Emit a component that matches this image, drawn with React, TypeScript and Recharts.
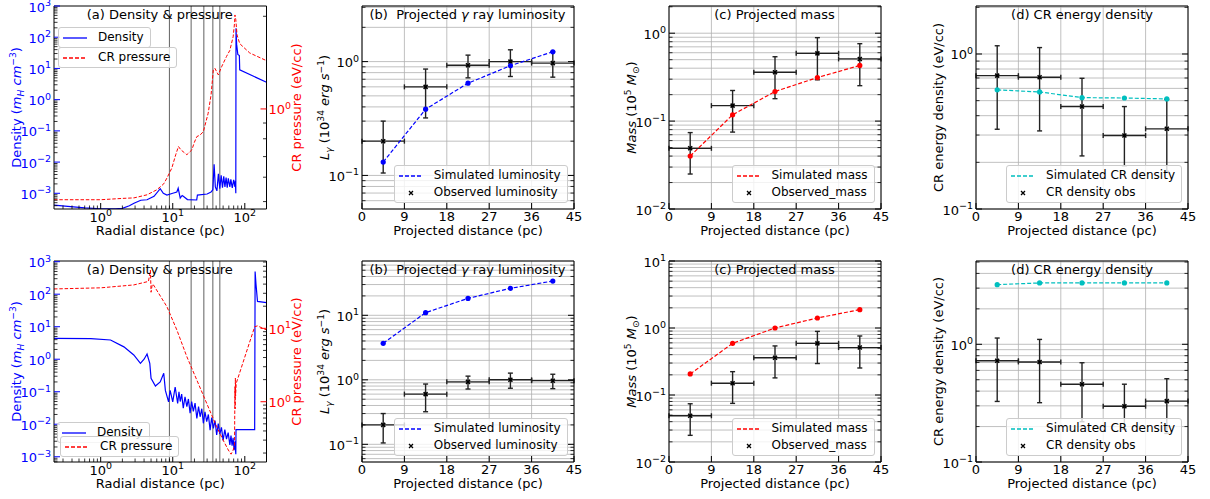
import React from "react";
import {
  ComposedChart,
  Line,
  Scatter,
  XAxis,
  YAxis,
  CartesianGrid,
  ErrorBar,
  ReferenceLine,
} from "recharts";

const FONT = "'DejaVu Sans', Verdana, sans-serif";
const FS = 13;
const BLUE = "#0000ff";
const RED = "#ff0000";
const CYAN = "#00bfbf";

// ---------- radial profiles (panel a), radius in pc ----------
const densTopR = [0.225, 0.35, 0.6, 1.0, 1.6, 2.0, 2.5, 2.9, 3.6, 4.4, 5.5, 6.7, 7.4, 8.3, 10, 11.4, 11.9, 12.7, 13.5, 14, 16, 21.5, 22, 30, 34, 36, 37.5, 39, 41, 43, 45, 47, 49, 51, 53, 55, 57, 59, 62, 64, 67, 70, 73, 74, 75, 75.5, 77, 80, 84, 85, 200];
const densTopV = [4.2e-4, 3.8e-4, 3.4e-4, 3.2e-4, 3.2e-4, 3.3e-4, 4.0e-4, 4.8e-4, 6.0e-4, 6.2e-4, 8.0e-4, 1.4e-3, 1.0e-3, 8.8e-4, 1.0e-3, 1.1e-3, 1.45e-3, 7e-4, 8.5e-4, 8e-4, 6.3e-4, 6.1e-4, 8.8e-4, 9.5e-4, 1.1e-3, 1.3e-3, 8.5e-3, 1.6e-3, 1.2e-3, 4.2e-3, 1.4e-3, 3.8e-3, 1.5e-3, 3.5e-3, 1.6e-3, 3.2e-3, 1.5e-3, 3.0e-3, 1.6e-3, 2.8e-3, 1.5e-3, 2.7e-3, 1.6e-3, 2.5e-3, 1.0e-3, 195, 60, 28, 26, 9, 3.6];
const presTopR = [0.225, 1.0, 2.0, 2.9, 4.4, 6.0, 7.5, 8.3, 9.7, 11, 12, 13, 15.7, 18.4, 20, 21.6, 24, 26.6, 31, 34, 36.6, 38.5, 42.9, 47.6, 55.7, 62, 69, 72, 73, 75, 78, 85, 117, 200];
const presTopV = [0.507, 0.507, 0.512, 0.514, 0.526, 0.546, 0.571, 0.596, 0.642, 0.71, 0.755, 0.736, 0.71, 0.736, 0.78, 0.813, 0.823, 0.844, 0.968, 1.11, 1.34, 1.355, 1.29, 1.37, 1.48, 1.55, 1.72, 1.9, 2.02, 1.95, 1.74, 1.63, 1.52, 1.435];

const densBotR = [0.225, 0.73, 1.37, 2.1, 2.88, 3.56, 4.0, 4.4, 4.8, 5.0, 5.75, 6.7, 7.5, 7.9, 8.75, 9.2, 10, 10.8, 11.7, 12.2, 12.7, 13.3, 14, 14.8, 15.7, 16.5, 17.4, 18.3, 19.3, 20.4, 21.6, 22.8, 24, 25.3, 26.6, 28, 29.6, 31.2, 33, 34.7, 36.6, 38.6, 40.7, 42.8, 45, 47.4, 50, 52.8, 55.7, 58.8, 62, 64.3, 66.6, 68.8, 71, 73, 75, 75.5, 137, 139, 143, 150, 200];
const densBotV = [4.4, 4.3, 3.9, 2.4, 1.35, 0.75, 1.0, 1.45, 0.75, 0.26, 0.15, 0.2, 0.37, 0.11, 0.049, 0.11, 0.049, 0.14, 0.044, 0.1, 0.05, 0.085, 0.031, 0.07, 0.035, 0.06, 0.022, 0.05, 0.025, 0.045, 0.015, 0.035, 0.017, 0.03, 0.0107, 0.024, 0.012, 0.02, 0.0066, 0.016, 0.0075, 0.013, 0.0047, 0.0105, 0.005, 0.008, 0.0032, 0.0068, 0.0035, 0.0055, 0.0023, 0.0045, 0.0022, 0.0038, 0.0016, 0.003, 0.0012, 0.0068, 0.0068, 500, 200, 60, 55];
const presBotR = [0.225, 1.0, 2.88, 4.6, 4.9, 5.0, 5.2, 5.4, 8.3, 11.4, 15.7, 21.6, 29.6, 40.7, 50, 59, 64.5, 69, 72, 73, 73.5, 74, 74.5, 76, 137, 150, 200];
const presBotV = [34.4, 35.6, 39, 43.5, 62, 31, 40, 39, 19.7, 9.5, 4.1, 1.97, 0.95, 0.457, 0.3, 0.22, 0.193, 0.22, 0.26, 1.6, 0.8, 2.1, 1.2, 1.78, 10.5, 10.8, 9.5];

const shellEdges = [9, 18, 27, 36, 45];

// ---------- projected profiles (panels b-d) ----------
const binCenters = [4.5, 13.5, 22.5, 31.5, 40.5];
const binHalfWidth = [4.5, 4.5, 4.5, 4.5, 4.5];

const lumObs = [0.2, 0.6, 0.93, 1.0, 0.97];
const lumObsLow = [0.105, 0.32, 0.72, 0.74, 0.73];
const lumObsHigh = [0.3, 0.86, 1.14, 1.27, 1.22];
const lumSimTop = [0.131, 0.382, 0.646, 0.92, 1.22];
const lumSimBottom = [3.68, 11, 18.3, 26.2, 34];

const massObs = [0.049, 0.15, 0.36, 0.59, 0.51];
const massObsLow = [0.025, 0.075, 0.18, 0.295, 0.253];
const massObsHigh = [0.074, 0.223, 0.54, 0.89, 0.76];
const massSimTop = [0.04, 0.118, 0.217, 0.313, 0.43];
const massSimBottom = [0.206, 0.59, 1.0, 1.41, 1.88];

const crObs = [0.725, 0.708, 0.458, 0.298, 0.329];
const crObsLow = [0.327, 0.319, 0.22, 0.19, 0.175];
const crObsHigh = [1.13, 1.1, 0.697, 0.458, 0.51];
const crSimTop = [0.587, 0.569, 0.523, 0.52, 0.513];
const crSimBottom = [3.21, 3.32, 3.32, 3.32, 3.32];

const projTicks = [0, 9, 18, 27, 36, 45];
const radialDomain = [0.225, 200];

// ---------- helpers ----------
const isDecade = (v: number) => Math.abs(Math.log10(v) - Math.round(Math.log10(v))) < 1e-6;
const expStr = (v: number) => {
  const e = Math.round(Math.log10(v));
  return e < 0 ? `\u2212${-e}` : `${e}`;
};
const logTicks = (lo: number, hi: number) => {
  const out: number[] = [];
  for (let e = Math.floor(Math.log10(lo)); e <= Math.ceil(Math.log10(hi)); e++) {
    for (let m = 1; m <= 9; m++) {
      const v = Number((m * Math.pow(10, e)).toPrecision(6));
      if (v >= lo && v <= hi) out.push(v);
    }
  }
  return out;
};
const rows = (xs: number[], ys: number[]) => xs.map((x, i) => ({ x, y: ys[i] }));
const obsRows = (ys: number[], lo: number[], hi: number[]) =>
  binCenters.map((x, i) => ({ x, y: ys[i], ex: binHalfWidth[i], ey: [ys[i] - lo[i], hi[i] - ys[i]] }));

type Seg = { t: string; it?: boolean; sup?: boolean; sub?: boolean };
const renderSegs = (list: Seg[], fs: number) => {
  let shift = 0;
  return list.map((s, i) => {
    const target = s.sup ? -0.42 * fs : s.sub ? 0.22 * fs : 0;
    const dy = target - shift;
    shift = target;
    return (
      <tspan key={i} dy={dy} fontSize={s.sup || s.sub ? fs * 0.7 : fs} fontStyle={s.it ? "italic" : "normal"}>
        {s.t}
      </tspan>
    );
  });
};

const densLabel: Seg[] = [{ t: "Density (" }, { t: "m", it: true }, { t: "H", it: true, sub: true }, { t: " cm", it: true }, { t: "\u22123", sup: true }, { t: ")" }];
const presLabel: Seg[] = [{ t: "CR pressure (eV/cc)" }];
const lumLabel: Seg[] = [{ t: "L", it: true }, { t: "\u03b3", it: true, sub: true }, { t: " (10" }, { t: "34", sup: true }, { t: " erg s", it: true }, { t: "\u22121", sup: true }, { t: ")" }];
const massLabel: Seg[] = [{ t: "Mass", it: true }, { t: " (10" }, { t: "5", sup: true }, { t: " M", it: true }, { t: "\u2299", sub: true }, { t: ")" }];
const crLabel: Seg[] = [{ t: "CR energy density (eV/cc)" }];

// tick renderer: draws inward tick line plus optional label
const TM = 20;
type Side = "left" | "right" | "bottom" | "top";
const makeTick = (o: { side: Side; log?: boolean; text?: "pow" | "num"; color?: string }) => (p: any) => {
  const v = Number(p.payload?.value);
  const major = !o.log || isDecade(v);
  const len = major ? 6 : 3.5;
  const lc = major && o.color ? o.color : "#000";
  const sw = major ? 1 : 0.8;
  const fill = o.color || "#000";
  const lab = (x: number, y: number, anchor: any) => {
    if (!o.text || !major) return null;
    return o.text === "pow" ? (
      <text x={x} y={y} textAnchor={anchor} fill={fill} fontSize={FS} fontFamily={FONT}>
        10<tspan dy={-5.5} fontSize={9.5}>{expStr(v)}</tspan>
      </text>
    ) : (
      <text x={x} y={y} textAnchor={anchor} fill={fill} fontSize={FS} fontFamily={FONT}>
        {v}
      </text>
    );
  };
  if (o.side === "left") {
    const sx = p.x + TM;
    return (
      <g>
        <line x1={sx} y1={p.y} x2={sx + len} y2={p.y} stroke={lc} strokeWidth={sw} />
        {lab(sx - 3, p.y + 5.5, "end")}
      </g>
    );
  }
  if (o.side === "right") {
    const sx = p.x - TM;
    return (
      <g>
        <line x1={sx} y1={p.y} x2={sx - len} y2={p.y} stroke={lc} strokeWidth={sw} />
        {lab(sx + 2, p.y + 5.5, "start")}
      </g>
    );
  }
  if (o.side === "bottom") {
    const sy = p.y - TM;
    return (
      <g>
        <line x1={p.x} y1={sy} x2={p.x} y2={sy - len} stroke={lc} strokeWidth={sw} />
        {lab(p.x, sy + (o.text === "pow" ? 12.5 : 12), "middle")}
      </g>
    );
  }
  const sy = p.y + TM;
  return (
    <g>
      <line x1={p.x} y1={sy} x2={p.x} y2={sy + len} stroke={lc} strokeWidth={sw} />
    </g>
  );
};

const yLabelFn = (segs: Seg[], color: string, side: "left" | "right") => (props: any) => {
  const vb = props.viewBox || {};
  const bx = side === "left" ? vb.x + vb.width - 33 : vb.x + 34.5;
  const cy = vb.y + vb.height / 2;
  return (
    <text x={bx} y={cy} transform={`rotate(-90, ${bx}, ${cy})`} textAnchor="middle" fill={color} fontSize={FS} fontFamily={FONT}>
      {renderSegs(segs, FS)}
    </text>
  );
};
const xLabelFn = (txt: string) => (props: any) => {
  const vb = props.viewBox || {};
  return (
    <text x={vb.x + vb.width / 2} y={vb.y + 26} textAnchor="middle" fill="#000" fontSize={FS} fontFamily={FONT}>
      {txt}
    </text>
  );
};

type LegendItem = { kind: "solid" | "dash" | "x"; color?: string; label: string };
const LegendBox = ({ items, style }: { items: LegendItem[]; style: React.CSSProperties }) => (
  <div
    style={{
      position: "absolute",
      border: "1px solid #cccccc",
      borderRadius: 3,
      background: "rgba(255,255,255,0.8)",
      padding: "1px 6px 1px 4px",
      fontFamily: FONT,
      fontSize: 12,
      lineHeight: "17px",
      color: "#000",
      whiteSpace: "nowrap",
      ...style,
    }}
  >
    {items.map((it) => (
      <div key={it.label} style={{ display: "flex", alignItems: "center", height: 17 }}>
        <svg width={24} height={10} style={{ flex: "none" }}>
          {it.kind === "x" ? (
            <path d="M10,3L14,7M10,7L14,3" stroke="#000" strokeWidth={1.3} />
          ) : (
            <line x1={0} y1={5} x2={24} y2={5} stroke={it.color} strokeWidth={1.3} strokeDasharray={it.kind === "dash" ? "4 2" : undefined} />
          )}
        </svg>
        <span style={{ marginLeft: 11 }}>{it.label}</span>
      </div>
    ))}
  </div>
);

const Title = ({ children }: { children: React.ReactNode }) => (
  <div style={{ position: "absolute", left: 0, right: 0, top: 2, textAlign: "center", fontFamily: FONT, fontSize: FS, lineHeight: "13px", whiteSpace: "pre", color: "#000" }}>
    {children}
  </div>
);

const LP = 60;
const TP = 10;
const BP = 40;
const RP = 50;

const xMark = (p: any) => (
  <path d={`M${p.cx - 2},${p.cy - 2}L${p.cx + 2},${p.cy + 2}M${p.cx - 2},${p.cy + 2}L${p.cx + 2},${p.cy - 2}`} stroke="#000" strokeWidth={1.5} />
);

function RadialPanel({ px, py, pw, ph, dens, pres, yDom, rDom, legA, legB }: any) {
  return (
    <>
      <div style={{ position: "absolute", left: px - LP, top: py - TP }}>
        <ComposedChart width={pw + LP + RP} height={ph + TP + BP} margin={{ top: TP - 1, right: 0, bottom: 0, left: 0 }}>
          <XAxis dataKey="x" type="number" scale="log" domain={radialDomain} allowDataOverflow ticks={logTicks(radialDomain[0], radialDomain[1])} interval={0} height={BP} tickSize={0} tickMargin={TM} tickLine={false} axisLine={{ stroke: "#000" }} tick={makeTick({ side: "bottom", log: true, text: "pow" })} label={xLabelFn("Radial distance (pc)")} />
          <XAxis xAxisId="t" orientation="top" type="number" scale="log" domain={radialDomain} allowDataOverflow ticks={[1, 10, 100]} interval={0} height={1} tickSize={0} tickLine={false} axisLine={{ stroke: "#000" }} tick={() => <g />} />
          <YAxis type="number" scale="log" domain={yDom} allowDataOverflow ticks={logTicks(yDom[0], yDom[1])} interval={0} width={LP} tickSize={0} tickMargin={TM} tickLine={false} axisLine={{ stroke: "#000" }} tick={makeTick({ side: "left", log: true, text: "pow", color: BLUE })} label={yLabelFn(densLabel, BLUE, "left")} />
          <YAxis yAxisId="r" orientation="right" type="number" scale="log" domain={rDom} allowDataOverflow ticks={logTicks(rDom[0], rDom[1])} interval={0} width={RP} tickSize={0} tickMargin={TM} tickLine={false} axisLine={{ stroke: "#000" }} tick={makeTick({ side: "right", log: true, text: "pow", color: RED })} label={yLabelFn(presLabel, RED, "right")} />
          {shellEdges.map((r) => (
            <ReferenceLine key={r} x={r} stroke="#707070" strokeWidth={1.1} />
          ))}
          <Line data={dens} dataKey="y" type="linear" stroke={BLUE} strokeWidth={1.2} dot={false} isAnimationActive={false} />
          <Line data={pres} yAxisId="r" dataKey="y" type="linear" stroke={RED} strokeWidth={1} strokeDasharray="3.5 1.8" dot={false} isAnimationActive={false} />
        </ComposedChart>
      </div>
      <div style={{ position: "absolute", left: px, top: py, width: pw, height: ph, pointerEvents: "none" }}>
        <Title>(a) Density &amp; pressure</Title>
        <LegendBox items={[{ kind: "solid", color: BLUE, label: "Density" }]} style={{ left: legA[0], top: legA[1] }} />
        <LegendBox items={[{ kind: "dash", color: RED, label: "CR pressure" }]} style={{ left: legB[0], top: legB[1] }} />
      </div>
    </>
  );
}

function ProfilePanel({ px, py, pw, ph, yDom, sim, obs, color, ySegs, title, simName, obsName }: any) {
  const yTicks = logTicks(yDom[0], yDom[1]);
  return (
    <>
      <div style={{ position: "absolute", left: px - LP, top: py - TP }}>
        <ComposedChart width={pw + LP + RP} height={ph + TP + BP} margin={{ top: TP - 1, right: RP - 1, bottom: 0, left: 0 }}>
          <CartesianGrid stroke="#b0b0b0" strokeWidth={0.8} />
          <XAxis dataKey="x" type="number" domain={[0, 45]} allowDataOverflow ticks={projTicks} interval={0} height={BP} tickSize={0} tickMargin={TM} tickLine={false} axisLine={{ stroke: "#000" }} tick={makeTick({ side: "bottom", text: "num" })} label={xLabelFn("Projected distance (pc)")} />
          <XAxis xAxisId="t" orientation="top" type="number" domain={[0, 45]} allowDataOverflow ticks={projTicks} interval={0} height={1} tickSize={0} tickMargin={TM} tickLine={false} axisLine={{ stroke: "#000" }} tick={makeTick({ side: "top" })} />
          <YAxis type="number" scale="log" domain={yDom} allowDataOverflow ticks={yTicks} interval={0} width={LP} tickSize={0} tickMargin={TM} tickLine={false} axisLine={{ stroke: "#000" }} tick={makeTick({ side: "left", log: true, text: "pow" })} label={yLabelFn(ySegs, "#000", "left")} />
          <YAxis yAxisId="r" orientation="right" type="number" scale="log" domain={yDom} allowDataOverflow ticks={yTicks} interval={0} width={1} tickSize={0} tickMargin={TM} tickLine={false} axisLine={{ stroke: "#000" }} tick={makeTick({ side: "right", log: true })} />
          <Scatter data={obs} dataKey="y" shape={xMark} isAnimationActive={false}>
            <ErrorBar dataKey="ey" direction="y" width={2.5} stroke="#222" strokeWidth={1.4} isAnimationActive={false} />
            <ErrorBar dataKey="ex" direction="x" width={2.5} stroke="#222" strokeWidth={1.4} isAnimationActive={false} />
          </Scatter>
          <Line
            data={sim}
            dataKey="y"
            type="linear"
            stroke={color}
            strokeWidth={1.2}
            strokeDasharray="4 2"
            dot={(d: any) => <circle key={`d${d.index}`} cx={d.cx} cy={d.cy} r={2.6} fill={color} />}
            isAnimationActive={false}
          />
        </ComposedChart>
      </div>
      <div style={{ position: "absolute", left: px, top: py, width: pw, height: ph, pointerEvents: "none" }}>
        <Title>{title}</Title>
        <LegendBox
          items={[
            { kind: "dash", color, label: simName },
            { kind: "x", label: obsName },
          ]}
          style={{ right: 6, bottom: 6 }}
        />
      </div>
    </>
  );
}

const lumTitle = (
  <>
    (b)  Projected <i>{"\u03b3"}</i> ray luminosity
  </>
);

export default function App() {
  const colX = [53.5, 361.5, 668.5, 976];
  const colW = [212.5, 212, 212, 212];
  const rowY = [6, 261];
  const rowH = [203, 201];
  const lumObsRows = obsRows(lumObs, lumObsLow, lumObsHigh);
  const massObsRows = obsRows(massObs, massObsLow, massObsHigh);
  const crObsRows = obsRows(crObs, crObsLow, crObsHigh);
  return (
    <div style={{ position: "absolute", left: 0, top: 0, width: 1210, height: 499, background: "#fff", overflow: "hidden" }}>
      <RadialPanel px={colX[0]} py={rowY[0]} pw={colW[0]} ph={rowH[0]} dens={rows(densTopR, densTopV)} pres={rows(presTopR, presTopV)} yDom={[3.14e-4, 1000]} rDom={[0.473, 2.16]} legA={[4.5, 21]} legB={[4.5, 41]} />
      <ProfilePanel px={colX[1]} py={rowY[0]} pw={colW[1]} ph={rowH[0]} yDom={[0.0507, 3.08]} sim={rows(binCenters, lumSimTop)} obs={lumObsRows} color={BLUE} ySegs={lumLabel} title={lumTitle} simName="Simulated luminosity" obsName="Observed luminosity" />
      <ProfilePanel px={colX[2]} py={rowY[0]} pw={colW[2]} ph={rowH[0]} yDom={[0.01, 2.04]} sim={rows(binCenters, massSimTop)} obs={massObsRows} color={RED} ySegs={massLabel} title="(c) Projected mass" simName="Simulated mass" obsName="Observed_mass" />
      <ProfilePanel px={colX[3]} py={rowY[0]} pw={colW[3]} ph={rowH[0]} yDom={[0.1, 2.04]} sim={rows(binCenters, crSimTop)} obs={crObsRows} color={CYAN} ySegs={crLabel} title="(d) CR energy density" simName="Simulated CR density" obsName="CR density obs" />

      <RadialPanel px={colX[0]} py={rowY[1]} pw={colW[0]} ph={rowH[1]} dens={rows(densBotR, densBotV)} pres={rows(presBotR, presBotV)} yDom={[6.9e-4, 1050]} rDom={[0.151, 82.6]} legA={[3.5, 161]} legB={[6.5, 175]} />
      <ProfilePanel px={colX[1]} py={rowY[1]} pw={colW[1]} ph={rowH[1]} yDom={[0.0532, 69.5]} sim={rows(binCenters, lumSimBottom)} obs={lumObsRows} color={BLUE} ySegs={lumLabel} title={lumTitle} simName="Simulated luminosity" obsName="Observed luminosity" />
      <ProfilePanel px={colX[2]} py={rowY[1]} pw={colW[2]} ph={rowH[1]} yDom={[0.01, 10]} sim={rows(binCenters, massSimBottom)} obs={massObsRows} color={RED} ySegs={massLabel} title="(c) Projected mass" simName="Simulated mass" obsName="Observed_mass" />
      <ProfilePanel px={colX[3]} py={rowY[1]} pw={colW[3]} ph={rowH[1]} yDom={[0.1, 5.1]} sim={rows(binCenters, crSimBottom)} obs={crObsRows} color={CYAN} ySegs={crLabel} title="(d) CR energy density" simName="Simulated CR density" obsName="CR density obs" />
    </div>
  );
}
